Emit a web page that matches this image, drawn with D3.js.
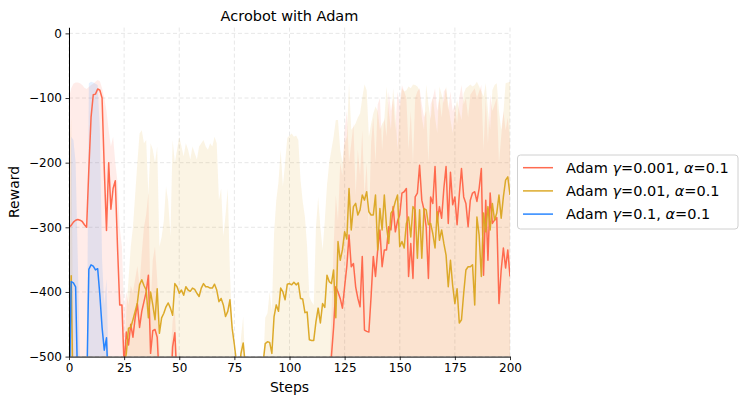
<!DOCTYPE html>
<html><head><meta charset="utf-8">
<script src="https://cdn.jsdelivr.net/npm/d3@7"></script>
<style>body{margin:0;background:#fff;} text{font-family:"DejaVu Sans",sans-serif;fill:#000;}</style>
</head><body><svg id="c" width="747" height="404"></svg>
<script>
// ---------- data ----------
const xTicks = [0, 25, 50, 75, 100, 125, 150, 175, 200];
const yTicks = [0, -100, -200, -300, -400, -500];
const seriesLabels = [
  ["Adam ", "γ", "=0.001, ", "α", "=0.1"],
  ["Adam ", "γ", "=0.01, ", "α", "=0.1"],
  ["Adam ", "γ", "=0.1, ", "α", "=0.1"]
];
const seriesColors = ["#FF6347", "#DAA520", "#1E80FF"];
const N = null; // value lies below the axis floor (not visible)

const redMean = [
 -300,-297,-292,-289,-288,-289,-291,-296,-300,-210,
 -130,-95,-94,-86,-88,-100,-210,-305,-200,-272,
 -240,-228,-330,-420,-420,-515,-462,-482,-450,-470,
 -440,-418,-455,-430,-415,-400,-374,-495,-460,-458,
 -470,-540,N,N,N,N,-560,-485,-463,-540,
 N,N,N,N,N,N,N,N,N,N,
 N,N,N,N,N,N,N,N,N,N,
 N,N,N,N,N,N,N,N,N,N,
 N,N,N,N,N,N,N,N,N,N,
 N,N,N,N,N,N,N,N,N,N,
 N,N,N,N,N,N,N,N,N,N,
 N,N,N,N,N,N,N,N,-600,-500,
 -455,-392,-400,-410,-425,-392,-360,-312,-361,-356,
 -392,-410,-423,-345,-459,-461,-462,-407,-345,-376,
 -335,-304,-361,-335,-335,-299,-304,-268,-307,-290,
 -281,-247,-245,-240,-376,-325,-379,-253,-247,-204,
 -258,-273,-300,-379,-253,-263,-206,-291,-268,-286,
 -240,-206,-294,-215,-265,-253,-296,-250,-209,-253,
 -263,-299,-258,-247,-245,-260,-240,-209,-374,-258,
 -351,-247,-294,-289,-285,-418,-366,-332,-363,-335,
 -376
];
const redUpper = [
 -100,-85,-78,-76,-76,-77,-80,-84,-86,-83,
 -80,-78,-75,-72,-74,-85,-100,-120,-150,-175,
 -160,-200,-230,-300,-330,-430,-400,-420,-390,-400,
 -380,-360,-390,-340,-300,-280,-247,-420,-350,-330,
 -380,-480,-560,N,N,-560,-500,-445,-430,-500,
 -560,N,N,N,N,N,N,N,N,N,
 N,N,N,N,N,N,N,N,N,N,
 N,N,N,N,N,N,N,N,N,N,
 N,N,N,N,N,N,N,N,N,N,
 N,N,N,N,N,N,N,N,N,N,
 N,N,N,N,N,N,N,N,N,N,
 N,N,N,N,N,N,N,-600,-520,-440,
 -330,-250,-290,-200,-220,-150,-120,-200,-170,-140,
 -250,-180,-220,-150,-250,-200,-300,-170,-130,-200,
 -110,-100,-180,-130,-160,-90,-120,-100,-150,-90,
 -110,-80,-90,-100,-180,-120,-200,-100,-90,-85,
 -110,-130,-120,-200,-110,-100,-85,-120,-100,-130,
 -90,-85,-120,-90,-120,-110,-140,-100,-80,-110,
 -100,-130,-95,-90,-85,-100,-90,-80,-180,-100,
 -170,-95,-120,-110,-100,-200,-160,-120,-150,-130,
 -170
];
const yellowMean = [
 -560,-375,-600,N,N,N,N,N,N,N,
 N,N,N,N,N,N,N,N,N,N,
 N,N,N,N,-600,-515,-495,-456,-455,-443,
 -430,-417,-389,-381,-390,-397,-440,-400,-420,-443,
 -395,-464,-440,-433,-423,-417,-425,-436,-387,-392,
 -402,-397,-405,-392,-397,-399,-394,-396,-402,-407,
 -394,-387,-392,-392,-394,-394,-388,-397,-415,-410,
 -420,-438,-430,-412,-456,-482,-510,-530,-495,-479,
 -515,-600,N,N,N,N,N,-600,-510,-480,
 -477,-478,-495,-438,-420,-430,-394,-400,-412,-388,
 -387,-389,-385,-389,-386,-410,-411,-432,-431,-474,
 -475,-475,-446,-425,-448,-418,-424,-374,-384,-387,
 -366,-440,-322,-351,-335,-307,-318,-240,-304,-268,
 -263,-281,-273,-250,-258,-245,-276,-281,-281,-250,
 -335,-271,-304,-250,-299,-325,-278,-273,-260,-250,
 -330,-322,-332,-294,-284,-315,-268,-273,-348,-273,
 -348,-271,-273,-296,-294,-310,-332,-276,-320,-304,
 -325,-343,-392,-351,-390,-418,-395,-448,-443,-402,
 -366,-361,-361,-358,-420,-284,-312,-376,-278,-307,
 -268,-304,-263,-289,-278,-250,-286,-253,-227,-222,
 -250
];
const yellowUpper = [
 -200,-130,-520,N,N,N,N,N,N,N,
 N,N,N,N,N,N,N,N,N,N,
 N,N,N,N,-600,-520,-430,-380,-330,-300,
 -250,-200,-155,-150,-170,-165,-250,-170,-180,-200,
 -175,-330,-315,-290,-237,-260,-314,-165,-200,-180,
 -160,-175,-190,-170,-180,-195,-175,-185,-195,-175,
 -170,-165,-175,-180,-170,-175,-160,-170,-258,-240,
 -314,-280,-240,-371,-450,-520,-560,-530,-470,-438,
 -520,-600,N,N,N,N,N,-600,-520,-440,
 -433,-400,-430,-309,-258,-230,-180,-237,-200,-162,
 -158,-155,-160,-158,-165,-227,-260,-284,-330,-407,
 -415,-420,-300,-253,-300,-335,-290,-235,-200,-180,
 -160,-134,-134,-180,-200,-170,-160,-77,-149,-145,
 -139,-130,-124,-100,-79,-88,-160,-140,-124,-113,
 -120,-149,-140,-134,-82,-120,-149,-85,-120,-180,
 -120,-85,-90,-88,-82,-85,-79,-80,-82,-88,
 -130,-149,-79,-110,-134,-98,-130,-154,-82,-95,
 -108,-82,-110,-134,-154,-120,-103,-120,-134,-93,
 -85,-82,-79,-82,-80,-75,-82,-90,-98,-77,
 -120,-149,-88,-80,-77,-120,-149,-124,-77,-76,
 -75
];
const blueMean = [
 -600,-384,-386,-392,-560,N,N,N,-560,-365,
 -358,-360,-366,-364,-405,-455,-490,-471,-560
];
const blueUpper = [
 -500,-160,-165,-200,-350,-520,N,N,-560,-77,
 -75,-76,-78,-80,-150,-350,-420,-380,-520
];

// ---------- chart ----------
const svg = d3.select("#c");
const margin = {left: 69, right: 237, top: 27.3, bottom: 47.4};
const W = 747, H = 404;
const x = d3.scaleLinear().domain([0, 200]).range([margin.left, W - margin.right]);
const y = d3.scaleLinear().domain([-500, 9.4]).range([H - margin.bottom, margin.top]);
const floorY = y(y.domain()[0]);

svg.append("defs").append("clipPath").attr("id", "clip")
  .append("rect").attr("x", x.range()[0]).attr("y", y.range()[1])
  .attr("width", x.range()[1] - x.range()[0]).attr("height", y.range()[0] - y.range()[1]);

// grid
const grid = svg.append("g");
grid.selectAll(".gx").data(xTicks).join("line")
  .attr("x1", d => x(d)).attr("x2", d => x(d))
  .attr("y1", y.range()[0]).attr("y2", y.range()[1])
  .attr("stroke", "#b0b0b0").attr("stroke-opacity", 0.35).attr("stroke-width", 0.9)
  .attr("stroke-dasharray", "4,2.5");
grid.selectAll(".gy").data(yTicks).join("line")
  .attr("y1", d => y(d)).attr("y2", d => y(d))
  .attr("x1", x.range()[0]).attr("x2", x.range()[1])
  .attr("stroke", "#b0b0b0").attr("stroke-opacity", 0.35).attr("stroke-width", 0.9)
  .attr("stroke-dasharray", "4,2.5");

const plot = svg.append("g").attr("clip-path", "url(#clip)");
const toPts = arr => arr.map((v, i) => ({s: i, v}));
const area = d3.area().defined(d => d.v != null)
  .x(d => x(d.s)).y0(floorY + 5).y1(d => y(d.v));
const line = d3.line().defined(d => d.v != null)
  .x(d => x(d.s)).y(d => y(d.v));

const bands = [redUpper, yellowUpper, blueUpper];
const means = [redMean, yellowMean, blueMean];
bands.forEach((b, i) => {
  plot.append("path").datum(toPts(b)).attr("d", area)
    .attr("fill", seriesColors[i]).attr("fill-opacity", 0.12).attr("stroke", "none");
});
means.forEach((m, i) => {
  plot.append("path").datum(toPts(m)).attr("d", line)
    .attr("fill", "none").attr("stroke", seriesColors[i]).attr("stroke-width", 1.5)
    .attr("stroke-opacity", 0.95).attr("stroke-linejoin", "round");
});

// axes
const fmt = d => d < 0 ? "\u2212" + Math.abs(d) : String(d);
const gx = svg.append("g").attr("transform", `translate(0,${floorY})`)
  .call(d3.axisBottom(x).tickValues(xTicks).tickSize(3.5).tickPadding(3.5).tickSizeOuter(0).tickFormat(fmt));
const gy = svg.append("g").attr("transform", `translate(${x.range()[0]},0)`)
  .call(d3.axisLeft(y).tickValues(yTicks).tickSize(3.5).tickPadding(3.5).tickSizeOuter(0).tickFormat(fmt));
[gx, gy].forEach(g => {
  g.selectAll("text").attr("font-size", 12).attr("font-family", "DejaVu Sans").attr("fill", "#000");
  g.selectAll("line").attr("stroke", "#000").attr("stroke-width", 0.8);
  g.select(".domain").attr("stroke", "#000").attr("stroke-width", 1);
});

// labels
const cx = (x.range()[0] + x.range()[1]) / 2;
svg.append("text").attr("x", cx).attr("y", 21).attr("text-anchor", "middle")
  .attr("font-size", 14.5).text("Acrobot with Adam");
svg.append("text").attr("x", cx).attr("y", 392).attr("text-anchor", "middle")
  .attr("font-size", 14).text("Steps");
svg.append("text").attr("transform", `translate(19,${(y.range()[0] + y.range()[1]) / 2}) rotate(-90)`)
  .attr("text-anchor", "middle").attr("font-size", 14).text("Reward");

// legend
const lg = svg.append("g").attr("transform", "translate(517.5,155)");
lg.append("rect").attr("width", 220.5).attr("height", 74).attr("rx", 3)
  .attr("fill", "#fff").attr("fill-opacity", 0.8).attr("stroke", "#d0d0d0").attr("stroke-width", 1);
seriesLabels.forEach((parts, i) => {
  const ry = 12.7 + i * 23.2;
  lg.append("line").attr("x1", 5.5).attr("x2", 35.5).attr("y1", ry).attr("y2", ry)
    .attr("stroke", seriesColors[i]).attr("stroke-width", 1.5).attr("stroke-opacity", 0.95);
  const t = lg.append("text").attr("x", 48.5).attr("y", ry + 5.2).attr("font-size", 14.5);
  parts.forEach((p, j) => t.append("tspan").attr("font-style", j % 2 === 1 ? "italic" : "normal").text(p));
});
</script></body></html>
